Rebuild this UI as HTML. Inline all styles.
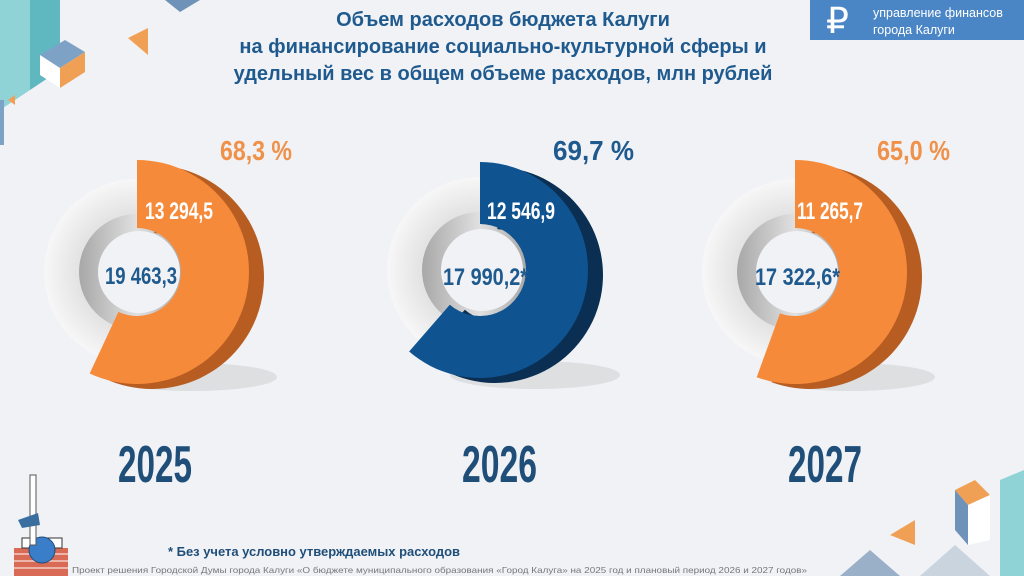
<!DOCTYPE html>
<html><head><meta charset="utf-8"><style>
html,body{margin:0;padding:0;width:1024px;height:576px;overflow:hidden;background:#f1f2f6;font-family:"Liberation Sans",sans-serif}
svg{display:block}
.c{font-family:"Liberation Sans",sans-serif;font-weight:bold}
</style></head><body>
<svg id="s" width="1024" height="576" viewBox="0 0 1024 576">
<defs>
<radialGradient id="g1" cx="0.5" cy="0.5" r="0.5"><stop offset="0.45" stop-color="#d9d9d9"/><stop offset="1" stop-color="#f7f7f7"/></radialGradient>
<linearGradient id="g2" x1="0" x2="1"><stop offset="0" stop-color="#a8a8a8"/><stop offset="0.5" stop-color="#e0e0e0"/><stop offset="1" stop-color="#999"/></linearGradient>
</defs>
<!-- decor top-left -->
<polygon points="0,0 30,0 30,90 0,110" fill="#8fd3d6"/>
<polygon points="30,0 60,0 60,70 30,90" fill="#5fb8c0"/>
<polygon points="165,0 200,0 180,12" fill="#6f93b8"/>
<polygon points="40,55 65,40 85,52 60,68" fill="#7ea2c6"/>
<polygon points="40,55 60,68 60,88 40,75" fill="#ffffff"/>
<polygon points="60,68 85,52 85,72 60,88" fill="#f0a055"/>
<polygon points="128,38 148,28 148,55" fill="#f0a055"/>
<polygon points="8,100 15,95 15,105" fill="#f0a055"/>
<rect x="0" y="100" width="4" height="45" fill="#7ea2c6"/>
<!-- decor bottom-right -->
<polygon points="955,490 975,480 990,495 968,505" fill="#f0a055"/>
<polygon points="955,490 968,505 968,545 955,530" fill="#6f93b8"/>
<polygon points="968,505 990,495 990,540 968,545" fill="#ffffff"/>
<polygon points="1000,480 1024,470 1024,576 1000,576" fill="#8fd3d6"/>
<polygon points="890,535 915,520 915,545" fill="#f0a055"/>
<polygon points="840,576 870,550 900,576" fill="#9ab0c8"/>
<polygon points="920,576 955,545 990,576" fill="#c9d4df"/>
<!-- logo box -->
<rect x="810" y="0" width="214" height="40" fill="#4a86c5"/>
<text x="826" y="33" font-size="36" fill="#fff">₽</text>
<text x="873" y="17" font-size="12.5" fill="#fff">управление финансов</text>
<text x="873" y="34" font-size="12.5" fill="#fff">города Калуги</text>
<!-- title -->
<g fill="#1f5a8e" font-weight="bold" font-size="20" text-anchor="middle">
<text x="503" y="26">Объем расходов бюджета Калуги</text>
<text x="503" y="53">на финансирование социально-культурной сферы и</text>
<text x="503" y="80">удельный вес в общем объеме расходов, млн рублей</text>
</g>
<g id="donuts"></g>
<g class="c" font-size="28" lengthAdjust="spacingAndGlyphs">
<text x="220" y="160" fill="#f0914a" textLength="72" lengthAdjust="spacingAndGlyphs">68,3 %</text>
<text x="553" y="160" fill="#1f5a8e" textLength="81" lengthAdjust="spacingAndGlyphs">69,7 %</text>
<text x="877" y="160" fill="#f0914a" textLength="73" lengthAdjust="spacingAndGlyphs">65,0 %</text>
</g>
<g class="c" font-size="24">
<text x="145" y="219" fill="#fff" textLength="68" lengthAdjust="spacingAndGlyphs">13 294,5</text>
<text x="105" y="284" fill="#1f5a8e" textLength="72" lengthAdjust="spacingAndGlyphs">19 463,3</text>
<text x="487" y="219" fill="#fff" textLength="68" lengthAdjust="spacingAndGlyphs">12 546,9</text>
<text x="443" y="285" fill="#1f5a8e" textLength="85" lengthAdjust="spacingAndGlyphs">17 990,2*</text>
<text x="797" y="219" fill="#fff" textLength="66" lengthAdjust="spacingAndGlyphs">11 265,7</text>
<text x="755" y="285" fill="#1f5a8e" textLength="85" lengthAdjust="spacingAndGlyphs">17 322,6*</text>
</g>
<g class="c" font-size="52" fill="#1f4e79">
<text x="118" y="482" textLength="74" lengthAdjust="spacingAndGlyphs">2025</text>
<text x="462" y="482" textLength="75" lengthAdjust="spacingAndGlyphs">2026</text>
<text x="788" y="482" textLength="74" lengthAdjust="spacingAndGlyphs">2027</text>
</g>
<!-- monument -->
<rect x="14" y="548" width="54" height="28" fill="#d96a55"/>
<rect x="14" y="553" width="54" height="2" fill="#fff" opacity=".5"/>
<rect x="14" y="560" width="54" height="2" fill="#fff" opacity=".5"/>
<rect x="14" y="567" width="54" height="2" fill="#fff" opacity=".5"/>
<rect x="22" y="538" width="40" height="10" fill="#fff" stroke="#333"/>
<circle cx="42" cy="550" r="13" fill="#3a7dc9" stroke="#1f4e79"/>
<rect x="30" y="475" width="6" height="70" fill="#fff" stroke="#555"/>
<polygon points="18,520 38,513 40,525 22,528" fill="#3a6e9e"/>
<text x="168" y="556" font-size="13" font-weight="bold" fill="#1f4e79" textLength="292" lengthAdjust="spacingAndGlyphs">* Без учета условно утверждаемых расходов</text>
<text x="72" y="573" font-size="8.5" fill="#777" textLength="735" lengthAdjust="spacingAndGlyphs">Проект решения Городской Думы города Калуги «О бюджете муниципального образования «Город Калуга» на 2025 год и плановый период 2026 и 2027 годов»</text>
</svg>
<script>
function arc(cx,cy,R,r,a0,a1){
 function p(rad,a){a=(a-90)*Math.PI/180;return [cx+rad*Math.cos(a),cy+rad*Math.sin(a)];}
 var large=(a1-a0)>180?1:0;
 var A=p(R,a0),B=p(R,a1),C=p(r,a1),D=p(r,a0);
 return "M"+A+" A"+R+","+R+" 0 "+large+" 1 "+B+" L"+C+" A"+r+","+r+" 0 "+large+" 0 "+D+"Z";
}
var g=document.getElementById('donuts'),h='';
var ds=[[137,272,'#f58a3a','#b85d22',205,112,44],[480,270,'#0f5390','#0a2f52',221,108,46],[795,272,'#f58a3a','#b85d22',200,112,44]];
ds.forEach(function(d){
 var cx=d[0],cy=d[1],R=d[5],r=d[6];
 h+='<ellipse cx="'+(cx+55)+'" cy="'+(cy+105)+'" rx="85" ry="14" fill="#ccc" opacity=".5"/>';
 h+='<circle cx="'+(cx)+'" cy="'+(cy)+'" r="93" fill="url(#g1)"/>';
 h+='<circle cx="'+(cx)+'" cy="'+(cy)+'" r="58" fill="url(#g2)"/>';
 h+='<circle cx="'+(cx+2)+'" cy="'+(cy)+'" r="41" fill="#f1f2f6"/>';
 h+='<path d="'+arc(cx+15,cy+5,R,r,3,d[4])+'" fill="'+d[3]+'"/>';
 h+='<path d="'+arc(cx,cy,R,r,0,d[4])+'" fill="'+d[2]+'"/>';
});
g.innerHTML=h;
</script>
</body></html>
